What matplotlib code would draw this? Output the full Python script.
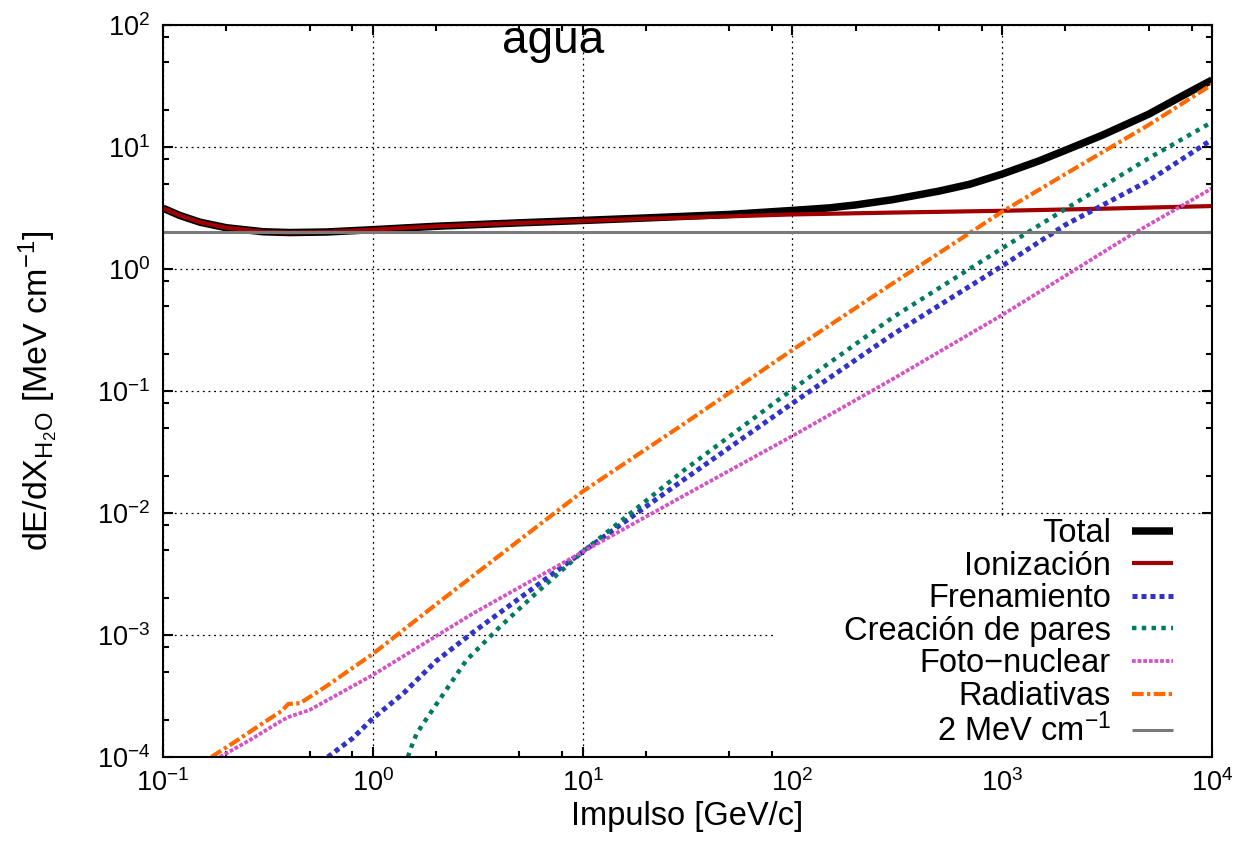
import matplotlib
matplotlib.use('Agg')
import matplotlib.pyplot as plt
from matplotlib.patches import Rectangle
from matplotlib.ticker import LogLocator, NullFormatter

plt.rcParams['font.family'] = ['Liberation Sans', 'DejaVu Sans']
plt.rcParams['mathtext.default'] = 'regular'

# momentum grid [GeV/c] and energy loss [MeV/cm], one set per curve
p_total = [0.1, 0.12, 0.15, 0.2, 0.3, 0.4, 0.6, 1, 2, 5, 10, 20, 50, 100, 150, 200, 300, 500,
           700, 1000, 1500, 2000, 3000, 5000, 7000, 10000]
dedx_total = [3.15, 2.75, 2.42, 2.18, 2.02, 1.99, 2.01, 2.10, 2.24, 2.39, 2.50, 2.62, 2.80,
              3.02, 3.17, 3.35, 3.70, 4.35, 4.95, 6.0, 7.7, 9.4, 12.5, 18.6, 25.5, 35.4]

p_ion = [0.1, 0.12, 0.15, 0.2, 0.3, 0.4, 0.6, 1, 2, 5, 10, 20, 50, 100, 300, 1000, 3000, 10000]
dedx_ion = [3.15, 2.75, 2.42, 2.18, 2.02, 1.99, 2.01, 2.10, 2.24, 2.38, 2.48, 2.58, 2.70,
            2.80, 2.90, 3.00, 3.12, 3.28]

p_brems = [0.61, 0.8, 1, 1.4, 2, 3, 5, 10, 30, 100, 300, 1000, 2000, 5000, 10000]
dedx_brems = [1.0e-4, 1.42e-4, 2.07e-4, 3.33e-4, 6.1e-4, 1.05e-3, 2.0e-3, 4.8e-3, 0.0185,
              0.0793, 0.29, 1.06, 2.3, 5.3, 11.5]

p_pair = [1.47, 1.55, 1.62, 1.8, 2.2, 2.79, 4, 6, 10, 30, 100, 300, 1000, 2000, 3160, 5000, 10000]
dedx_pair = [1.0e-4, 1.3e-4, 1.56e-4, 2.05e-4, 3.4e-4, 6.2e-4, 1.15e-3, 2.2e-3, 4.8e-3, 0.022,
             0.103, 0.40, 1.48, 3.1, 5.0, 8.1, 16.0]

p_photo = [0.187, 0.26, 0.37, 0.4, 0.5, 1, 3, 10, 30, 100, 300, 1000, 2000, 4000, 10000]
dedx_photo = [1.0e-4, 1.38e-4, 2.0e-4, 2.14e-4, 2.43e-4, 4.7e-4, 1.5e-3, 4.8e-3, 0.0137,
              0.0428, 0.125, 0.42, 0.88, 1.85, 4.58]

p_rad = [0.17, 0.22, 0.3, 0.37, 0.395, 0.45, 0.6, 1, 2, 5, 10, 30, 100, 300, 1000, 2000,
         5000, 10000]
dedx_rad = [1.0e-4, 1.33e-4, 1.9e-4, 2.4e-4, 2.72e-4, 2.76e-4, 3.8e-4, 7.0e-4, 1.78e-3,
            6.0e-3, 0.0150, 0.053, 0.217, 0.76, 2.95, 6.0, 15.2, 32.5]

p_ref = [0.1, 10000]
dedx_ref = [2, 2]

W, H = 1246, 857
fig = plt.figure(figsize=(W / 100, H / 100), dpi=100)
ax = fig.add_axes([163 / W, 1 - 757 / H, (1212 - 163) / W, (757 - 25) / H])

ax.plot(p_total, dedx_total, color='black', lw=5.4, solid_capstyle='butt', label='Total')
ax.plot(p_ion, dedx_ion, color='#a00000', lw=3.0, solid_capstyle='butt', label='Ionización')
ax.plot(p_brems, dedx_brems, color='#3232c8', lw=3.6, ls=(0, (1, 0.8)),
        dash_capstyle='butt', label='Frenamiento')
ax.plot(p_pair, dedx_pair, color='#007a60', lw=3.2, ls=(0, (1, 1.2)),
        dash_capstyle='butt', label='Creación de pares')
ax.plot(p_photo, dedx_photo, color='#d452c4', lw=2.7, ls=(0, (1, 0.5)),
        dash_capstyle='butt', label='Foto\u2212nuclear')
ax.plot(p_rad, dedx_rad, color='#ff6a00', lw=3.0, ls=(0, (2.8, 0.8, 0.8, 0.8)),
        dash_capstyle='butt', label='Radiativas')
ax.plot(p_ref, dedx_ref, color='#7a7a7a', lw=2.2, solid_capstyle='butt',
        label='2 MeV cm$^{-1}$')

ax.set_xscale('log')
ax.set_yscale('log')
ax.set_xlim(0.1, 1e4)
ax.set_ylim(1e-4, 1e2)

for axis in (ax.xaxis, ax.yaxis):
    axis.set_major_locator(LogLocator(base=10, numticks=20))
    axis.set_minor_locator(LogLocator(base=10, subs=[2, 5, 8], numticks=20))
    axis.set_minor_formatter(NullFormatter())

ax.tick_params(which='both', direction='in', top=True, right=True, width=1.5)
ax.tick_params(which='major', length=7, labelsize=19.5, pad=9)
ax.tick_params(which='minor', length=4.5)
for s in ax.spines.values():
    s.set_linewidth(1.5)

ax.set_axisbelow(True)
ax.grid(True, which='major', color='black', lw=0.9, ls=(0, (1.5, 3)))

# white box behind the key, hides the grid like the original
ax.add_patch(Rectangle((0.583, 0), 0.417, 0.329, transform=ax.transAxes,
                       facecolor='white', edgecolor='none', zorder=1))

leg = ax.legend(loc='lower right', bbox_to_anchor=(0.9628, 0.012), markerfirst=False,
                frameon=False, fontsize=23.5, handlelength=1.25, handletextpad=0.65,
                labelspacing=0.05, borderaxespad=0, borderpad=0)

ax.text(0.372, 0.962, 'agua', transform=ax.transAxes, ha='center', va='baseline',
        fontsize=33)

ax.set_xlabel('Impulso [GeV/c]', fontsize=23.5)
ax.set_ylabel(r'dE/dX$_{H_{2}O}$ [MeV cm$^{-1}$]', fontsize=24.5)
ax.xaxis.set_label_coords(0.5, -0.06)
ax.yaxis.set_label_coords(-0.098, 0.5)

fig.savefig('out.png', dpi=100)
